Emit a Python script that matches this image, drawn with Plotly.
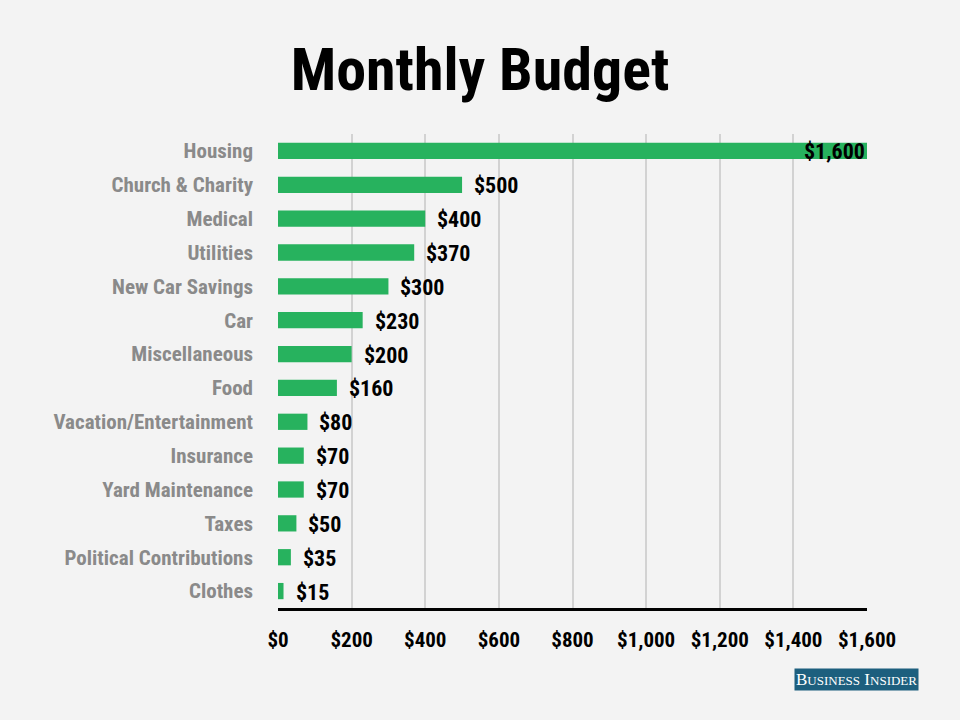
import plotly.graph_objects as go

categories = ["Housing", "Church & Charity", "Medical", "Utilities", "New Car Savings",
              "Car", "Miscellaneous", "Food", "Vacation/Entertainment", "Insurance",
              "Yard Maintenance", "Taxes", "Political Contributions", "Clothes"]
values = [1600, 500, 400, 370, 300, 230, 200, 160, 80, 70, 70, 50, 35, 15]
tick_vals = [0, 200, 400, 600, 800, 1000, 1200, 1400, 1600]
tick_text = ["$0", "$200", "$400", "$600", "$800", "$1,000", "$1,200", "$1,400", "$1,600"]

FONT = "Roboto Condensed, Liberation Sans Narrow, DejaVu Sans Condensed, Roboto, sans-serif"
BG = "#f3f3f3"
GREEN = "#27b25e"

fig = go.Figure()
fig.add_trace(go.Bar(
    x=values, y=categories, orientation="h",
    marker=dict(color=GREEN, line=dict(width=0)),
    hoverinfo="skip",
))

for c, v in zip(categories, values):
    top = v == max(values)
    fig.add_annotation(
        x=v, y=c, xref="x", yref="y",
        text="${:,}".format(v),
        showarrow=False,
        xanchor="right" if top else "left",
        xshift=0 if top else 10,
        yshift=-1,
        font=dict(family=FONT, size=22, color="#000000", weight="bold"),
    )

fig.add_annotation(
    x=0.982, y=-0.151, xref="paper", yref="paper",
    xanchor="center", yanchor="middle",
    text="B<span style='font-size:13px'>USINESS</span> I<span style='font-size:13px'>NSIDER</span>",
    showarrow=False,
    bgcolor="#1d5f7e",
    borderpad=1,
    font=dict(family="Liberation Serif, DejaVu Serif, serif", size=17, color="#ffffff"),
)

fig.update_layout(
    width=960, height=720,
    paper_bgcolor=BG, plot_bgcolor=BG,
    margin=dict(l=278, r=93, t=134, b=112),
    title=dict(
        text="<b>Monthly Budget</b>",
        x=0.5, xanchor="center", y=0.933, yanchor="top",
        font=dict(family=FONT, size=60, color="#000000"),
    ),
    bargap=0.52,
    showlegend=False,
    xaxis=dict(
        range=[0, 1600],
        tickvals=tick_vals, ticktext=tick_text,
        showgrid=True, gridcolor="#d2d2d2", gridwidth=1.5,
        zeroline=False,
        showline=True, linecolor="#000000", linewidth=3,
        ticks="", ticklabelstandoff=11,
        tickfont=dict(family=FONT, size=21, color="#000000", weight="bold"),
        fixedrange=True,
    ),
    yaxis=dict(
        categoryorder="array", categoryarray=categories,
        autorange="reversed",
        range=[13.5, -0.5],
        showgrid=False, zeroline=False, showline=False,
        ticks="", ticklabelstandoff=24,
        tickfont=dict(family=FONT, size=21, color="#8a8a8a", weight="bold"),
        fixedrange=True,
    ),
)

fig.write_html(
    "out.html",
    config={"displayModeBar": False},
    post_script="document.body.style.margin='0';document.body.style.background='#f3f3f3';",
)
